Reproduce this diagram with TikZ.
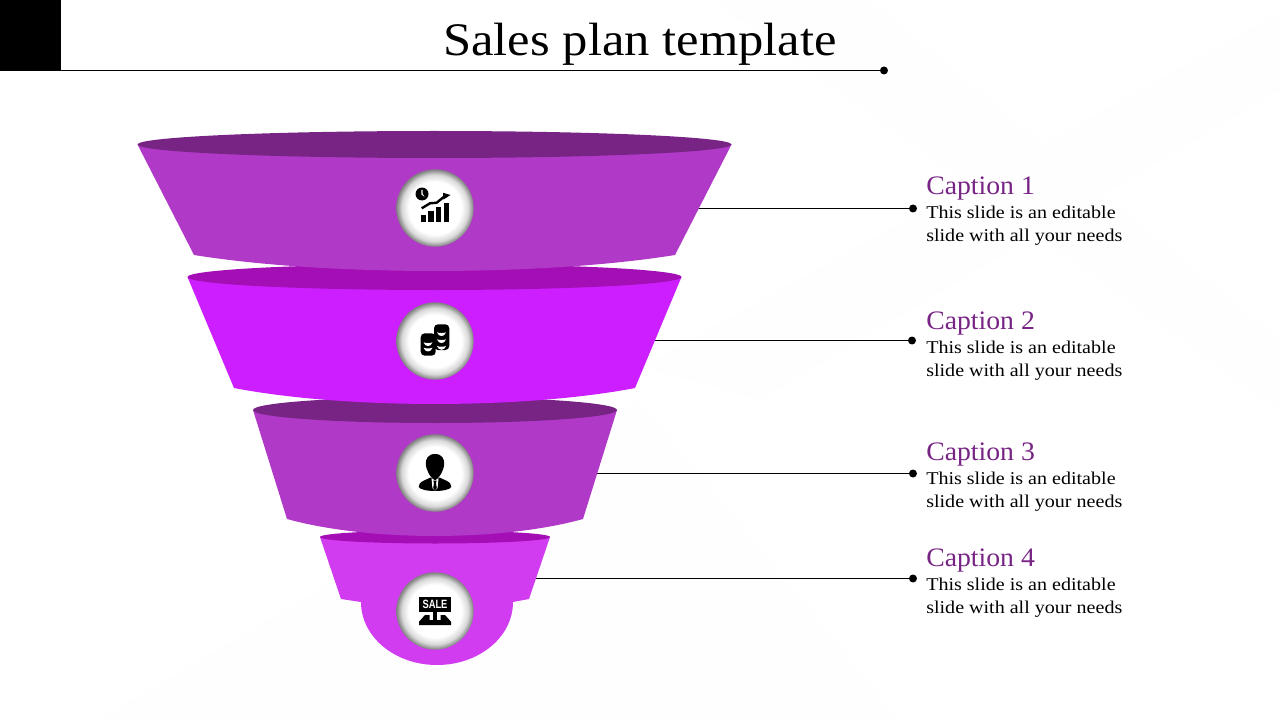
\documentclass[tikz,border=0pt]{standalone}
\usepackage{fontspec}
\setmainfont{Liberation Serif}
\newfontfamily\titlefont[FakeStretch=1.084]{Liberation Serif}
\newfontfamily\capfont[FakeStretch=1.04]{Liberation Serif}
\newfontfamily\bodyfont[FakeStretch=1.114]{Liberation Serif}
\newfontfamily\salefont[FakeStretch=0.78]{Liberation Sans}
\usetikzlibrary{calc}
\definecolor{fA}{HTML}{B139C8}
\definecolor{fAt}{HTML}{772485}
\definecolor{fB}{HTML}{CC1EFF}
\definecolor{fBt}{HTML}{A30FB5}
\definecolor{fD}{HTML}{D23CF0}
\definecolor{capc}{HTML}{772485}
\definecolor{bgf}{HTML}{FEFEFE}
\pgfdeclareradialshading{halo}{\pgfpoint{0cm}{0cm}}{color(0bp)=(white); color(17bp)=(white); color(21.5bp)=(black!15); color(25bp)=(black!50); color(50bp)=(black!50)}
\tikzset{
  x=0.75pt,y=-0.75pt,
  halocircle/.style={circle,minimum size=58pt,inner sep=0pt,shading=halo},
  leader/.style={draw=black,line width=0.75pt},
  enddot/.style={circle,fill=black,minimum size=6pt,inner sep=0pt},
  captitle/.style={anchor=base west,text=capc,font=\capfont\fontsize{20}{24}\selectfont,inner sep=0pt},
  capbody/.style={anchor=base west,text=black,font=\bodyfont\fontsize{13.5}{17.25}\selectfont,inner sep=0pt,align=left},
  icon/.style={fill=black,draw=none},
}
\newcommand{\funnel}[9]{% cx, top y, rx, ry, bottom half width, bottom y, sag, body colour, top colour
  \fill[#8] ({#1-#3},#2) -- ({#1-#5},#6) .. controls ({#1-#5*0.45},{#6+#7*1.33}) and ({#1+#5*0.45},{#6+#7*1.33}) .. ({#1+#5},#6) -- ({#1+#3},#2) -- cycle;
  \fill[#9] (#1,#2) ellipse [x radius=#3, y radius=#4];
}
\begin{document}
\begin{tikzpicture}
\useasboundingbox (0,0) rectangle (1280,720);
% faint background
\fill[bgf] (712,0) -- (870,0) -- (1280,340) -- (1280,412) -- cycle;
\fill[bgf] (640,367) -- (1280,12) -- (1280,90) -- (760,400) -- cycle;
\fill[bgf] (98,720) -- (640,400) -- (900,720) -- cycle;
% header
\fill[black] (0,0) rectangle (61,71);
\node[enddot] (titledot) at (884,70.5) {};
\coordinate (titlestart) at (61,70.5);
\draw[leader] (titlestart) -- (titledot);
\node[anchor=base,font=\titlefont\fontsize{35}{40}\selectfont,inner sep=0pt] (title) at (640,56) {Sales plan template};
% leaders
\coordinate (l1) at (697,208.5);
\coordinate (l2) at (654,340.5);
\coordinate (l3) at (597,473.5);
\coordinate (l4) at (535,578.5);
\node[enddot] (d1) at (913,208.5) {};
\node[enddot] (d2) at (912,340.5) {};
\node[enddot] (d3) at (913,473.5) {};
\node[enddot] (d4) at (913,578.5) {};
\draw[leader] (l1) -- (d1);
\draw[leader] (l2) -- (d2);
\draw[leader] (l3) -- (d3);
\draw[leader] (l4) -- (d4);
% funnel 4
\fill[fD] (437,665) .. controls (395,665) and (361,637) .. (361,602) -- (341,599) -- (320,537) -- (550,537) -- (529,599) -- (513,602) .. controls (513,637) and (479,665) .. (437,665) -- cycle;
\fill[fBt] (435,537) ellipse [x radius=115, y radius=6.5];
% funnels 3,2,1
\funnel{435}{410}{182}{13}{148}{519}{17}{fA}{fAt}
\funnel{434.5}{277}{247}{13}{200.5}{388}{16}{fB}{fBt}
\funnel{434.5}{144.5}{297}{13.5}{240.5}{255}{16}{fA}{fAt}
% circles
\node[halocircle] (c1) at (435,208) {};
\node[halocircle] (c2) at (435,341) {};
\node[halocircle] (c3) at (435,473) {};
\node[halocircle] (c4) at (435,611) {};
% icon 1: chart
\begin{scope}[shift={(c1.center)}]
  \fill[icon] (-14.3,7) rectangle (-8.7,14);
  \fill[icon] (-6.6,2.7) rectangle (-1,14);
  \fill[icon] (0.8,-1.3) rectangle (6.4,14);
  \fill[icon] (8.6,-5.3) rectangle (14.4,14);
  \fill[icon] (-13,-14) circle (6.5);
  \fill[white] (-13.6,-18) -- (-13.6,-13.6) -- (-10.5,-11) -- (-12.4,-14.4) -- (-12.4,-18) -- cycle;
  \draw[black,line width=1.8pt,line join=round] (-13.3,0.3) -- (-5,-4.7) -- (1.7,-5.3) -- (8.3,-10.7) -- (12,-12.2);
  \fill[icon] (8,-15.2) -- (15.5,-13) -- (8.5,-8.5) -- cycle;
\end{scope}
% icon 2: coins
\begin{scope}[shift={(c2.center)}]
  \fill[icon,rounded corners=3pt] (-14.3,-7.7) rectangle (0.7,14.7);
  \fill[icon,rounded corners=3pt] (-1,-16.7) rectangle (14.3,9);
  \foreach \yy in {1.3,6.7}{
    \fill[white] (-11.5,{\yy}) .. controls (-9,{\yy+1}) and (-5,{\yy+1}) .. (-2.5,{\yy}) .. controls (-4,{\yy+5}) and (-10,{\yy+5}) .. (-11.5,{\yy}) -- cycle;
  }
  \foreach \yy in {-8.7,-1.7,5}{
    \fill[white] (2,{\yy}) .. controls (4.5,{\yy+1}) and (8.5,{\yy+1}) .. (11,{\yy}) .. controls (9.5,{\yy+5}) and (3.5,{\yy+5}) .. (2,{\yy}) -- cycle;
  }
\end{scope}
% icon 3: person
\begin{scope}[shift={(c3.center)}]
  \fill[icon] (0,-19) .. controls (-7,-19) and (-9.5,-14) .. (-9.2,-9) .. controls (-8.8,-3) and (-4.5,6) .. (0,6) .. controls (4.5,6) and (8.8,-3) .. (9.2,-9) .. controls (9.5,-14) and (7,-19) .. (0,-19) -- cycle;
  \fill[icon] (-4.5,4.5) -- (-12,8) .. controls (-15,9.5) and (-16.5,12) .. (-16.3,14) .. controls (-15,16.5) and (-8,18) .. (0,18) .. controls (8,18) and (15,16.5) .. (16.3,14) .. controls (16.5,12) and (15,9.5) .. (12,8) -- (4.5,4.5) -- cycle;
  \fill[white] (-3.5,5) -- (0,7.5) -- (3.5,5) -- (2.6,15) -- (0,17.5) -- (-2.6,15) -- cycle;
  \fill[icon] (-1.8,7.5) -- (1.8,7.5) -- (1,10) -- (1.8,15) -- (0,17.5) -- (-1.8,15) -- (-1,10) -- cycle;
\end{scope}
% icon 4: sale
\begin{scope}[shift={(c4.center)}]
  \fill[icon] (-16,-14.3) rectangle (16,1.3);
  \node[text=white,font=\salefont\bfseries\fontsize{9}{9}\selectfont,inner sep=0pt] (saletext) at (0,-6.5) {SALE};
  \fill[icon] (-1.7,1.3) rectangle (1.7,9);
  \fill[icon] (-16,14) -- (-16,10.7) -- (-10,4) -- (-5.5,4) -- (-5.5,9) -- (5.5,9) -- (5.5,4) -- (10,4) -- (16,10.7) -- (16,14) -- cycle;
\end{scope}
% captions
\foreach \n/\yt/\ya/\yb/\cap in {a/195/219/242/Caption 1, b/329/353/376/Caption 2, c/460/484/507/Caption 3, e/566/590/613/Caption 4}{
  \node[captitle] (t\n) at (926,\yt) {\cap};
  \node[capbody] (ba\n) at (926,\ya) {This slide is an editable};
  \node[capbody] (bb\n) at (926,\yb) {slide with all your needs};
}
\end{tikzpicture}
\end{document}
